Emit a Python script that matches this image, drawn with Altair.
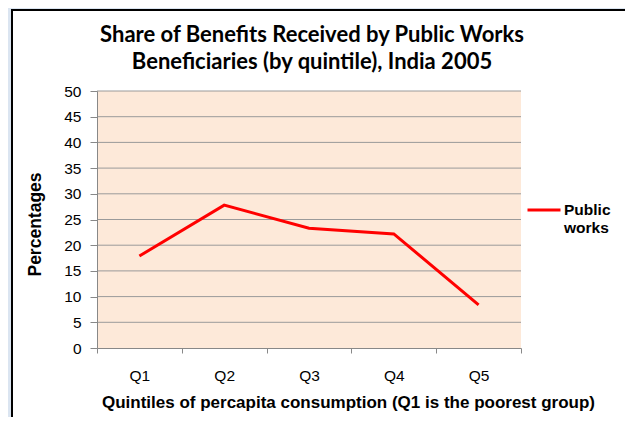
import altair as alt
import pandas as pd

quintiles = ["Q1", "Q2", "Q3", "Q4", "Q5"]
public_works = [17.9, 27.8, 23.3, 22.2, 8.4]
series_names = ["Public works"] * 5
y_ticks = [0, 5, 10, 15, 20, 25, 30, 35, 40, 45, 50]
grid_values = [5, 10, 15, 20, 25, 30, 35, 40, 45, 50]

title_lines = ["Share of Benefits Received by Public Works",
               "Beneficiaries (by quintile), India 2005"]
x_title = "Quintiles of percapita  consumption (Q1 is the poorest group)"
y_title = "Percentages"

line_df = pd.DataFrame({"Quintile": quintiles, "Share": public_works, "Series": series_names})
grid_df = pd.DataFrame({"v": grid_values})
one_df = pd.DataFrame({"a": [0]})

W, H = 424, 257
FONT = "Liberation Sans"

yscale = alt.Scale(domain=[0, 50], nice=False, zero=True)
xscale = alt.Scale(type="band", domain=quintiles, paddingInner=0, paddingOuter=0)

yaxis = alt.Axis(values=y_ticks, grid=False, domainColor="#888888", tickColor="#888888",
                 tickSize=7, labelPadding=9, labelFont=FONT, labelFontSize=15.5, labelColor="#000000",
                 title=y_title, titleFont=FONT, titleFontSize=17.5, titleFontWeight="bold",
                 titleColor="#000000", titleAngle=270, titleX=-62, titleY=133,
                 titleAlign="center", titleBaseline="middle", zindex=1)

xaxis = alt.Axis(tickBand="extent", grid=False, domainColor="#888888", tickColor="#888888",
                 tickSize=5, labelPadding=15, labelFont=FONT, labelFontSize=15.5, labelColor="#000000",
                 labelAngle=0, title=x_title, titleFont=FONT, titleFontSize=17,
                 titleFontWeight="bold", titleColor="#000000", titleX=251, titleY=54,
                 titleAlign="center", titleBaseline="middle", zindex=1)

frame = alt.Chart(one_df).mark_rect(fill="white", stroke="black", strokeWidth=2).encode(
    x=alt.value(-85), x2=alt.value(W + 300), y=alt.value(-81), y2=alt.value(H + 300))

peach = alt.Chart(one_df).mark_rect(fill="#fde9d9").encode(
    x=alt.value(0), x2=alt.value(W), y=alt.value(0), y2=alt.value(H))

grid = alt.Chart(grid_df).mark_rule(color="#9a9a9a", strokeWidth=1).encode(
    y=alt.Y("v:Q", scale=yscale, axis=yaxis))

line = alt.Chart(line_df).mark_line(strokeWidth=3).encode(
    x=alt.X("Quintile:N", scale=xscale, sort=quintiles, bandPosition=0.5, axis=xaxis),
    y=alt.Y("Share:Q", scale=yscale, axis=yaxis),
    color=alt.Color("Series:N", scale=alt.Scale(range=["#ff0000"]),
                    legend=alt.Legend(orient="none", legendX=429, legendY=101, title=None,
                                      symbolType="stroke", symbolStrokeWidth=3, symbolSize=1089,
                                      labelFont=FONT, labelFontSize=15.5, labelFontWeight="bold",
                                      labelColor="#000000", labelExpr="['Public', 'works']",
                                      padding=0, labelOffset=2, labelLimit=200)),
)

chart = alt.layer(frame, peach, grid, line).properties(
    width=W, height=H,
    autosize=alt.AutoSizeParams(type="none"),
    padding={"left": 89, "top": 83, "right": 104, "bottom": 69},
    background="#dbe5f1",
    title=alt.Title(title_lines, font="Lato", fontSize=22, fontWeight="bold", color="#000000",
                    anchor="middle", frame="group", offset=9, lineHeight=27, dx=3, dy=74),
).configure_view(stroke=None)

chart.save("out.html", embed_options={"renderer": "svg", "actions": False})
